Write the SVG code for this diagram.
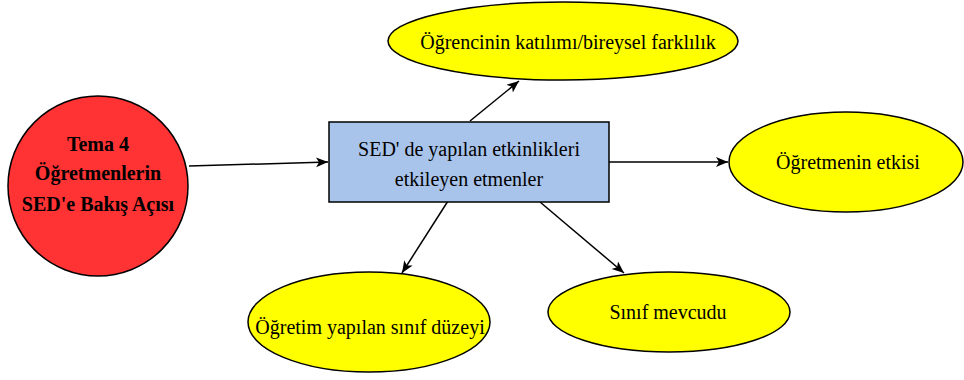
<svg xmlns="http://www.w3.org/2000/svg" width="964" height="380" viewBox="0 0 964 380">
<style>
  .t { font-family: "Liberation Serif", "Times New Roman", serif; font-size: 20px; fill: #000; text-anchor: middle; }
  .b { font-weight: bold; }
  .yel { fill: #ffff00; stroke: #000; stroke-width: 1.5; }
  .edge { stroke: #000; stroke-width: 1.5; fill: none; marker-end: url(#arr); }
</style>
<defs>
  <marker id="arr" markerUnits="userSpaceOnUse" markerWidth="14" markerHeight="12" refX="12" refY="5" orient="auto">
    <path d="M0,0 L12,5 L0,10 L3,5 z" fill="#000"/>
  </marker>
</defs>
<rect width="964" height="380" fill="#fff"/>
<g id="connectors">
  <line class="edge" x1="189" y1="166" x2="328" y2="162"/>
  <line class="edge" x1="470" y1="121" x2="519" y2="81"/>
  <line class="edge" x1="609" y1="162" x2="728" y2="162"/>
  <line class="edge" x1="448" y1="201" x2="402" y2="273"/>
  <line class="edge" x1="540" y1="202" x2="624" y2="273"/>
</g>
<g id="tema">
  <circle cx="98" cy="186" r="90" fill="#ff3333" stroke="#000" stroke-width="1.5"/>
  <text class="t b" x="98" y="151">Tema 4</text>
  <text class="t b" x="98" y="180">Öğretmenlerin</text>
  <text class="t b" x="98" y="211">SED'e Bakış Açısı</text>
</g>
<g id="etmenler">
  <rect x="329" y="122" width="280" height="80" fill="#a9c4eb" stroke="#000" stroke-width="1.5"/>
  <text class="t" x="469" y="156">SED' de yapılan etkinlikleri</text>
  <text class="t" x="469" y="186">etkileyen etmenler</text>
</g>
<g id="katilim">
  <ellipse class="yel" cx="563" cy="41" rx="175" ry="39"/>
  <text class="t" x="568" y="49">Öğrencinin katılımı/bireysel farklılık</text>
</g>
<g id="ogretmen">
  <ellipse class="yel" cx="846" cy="162" rx="117" ry="50"/>
  <text class="t" x="848" y="169">Öğretmenin etkisi</text>
</g>
<g id="duzey">
  <ellipse class="yel" cx="369" cy="322" rx="121" ry="50"/>
  <text class="t" x="370" y="334">Öğretim yapılan sınıf düzeyi</text>
</g>
<g id="mevcut">
  <ellipse class="yel" cx="669" cy="312" rx="121" ry="40"/>
  <text class="t" x="668" y="319">Sınıf mevcudu</text>
</g>
</svg>
